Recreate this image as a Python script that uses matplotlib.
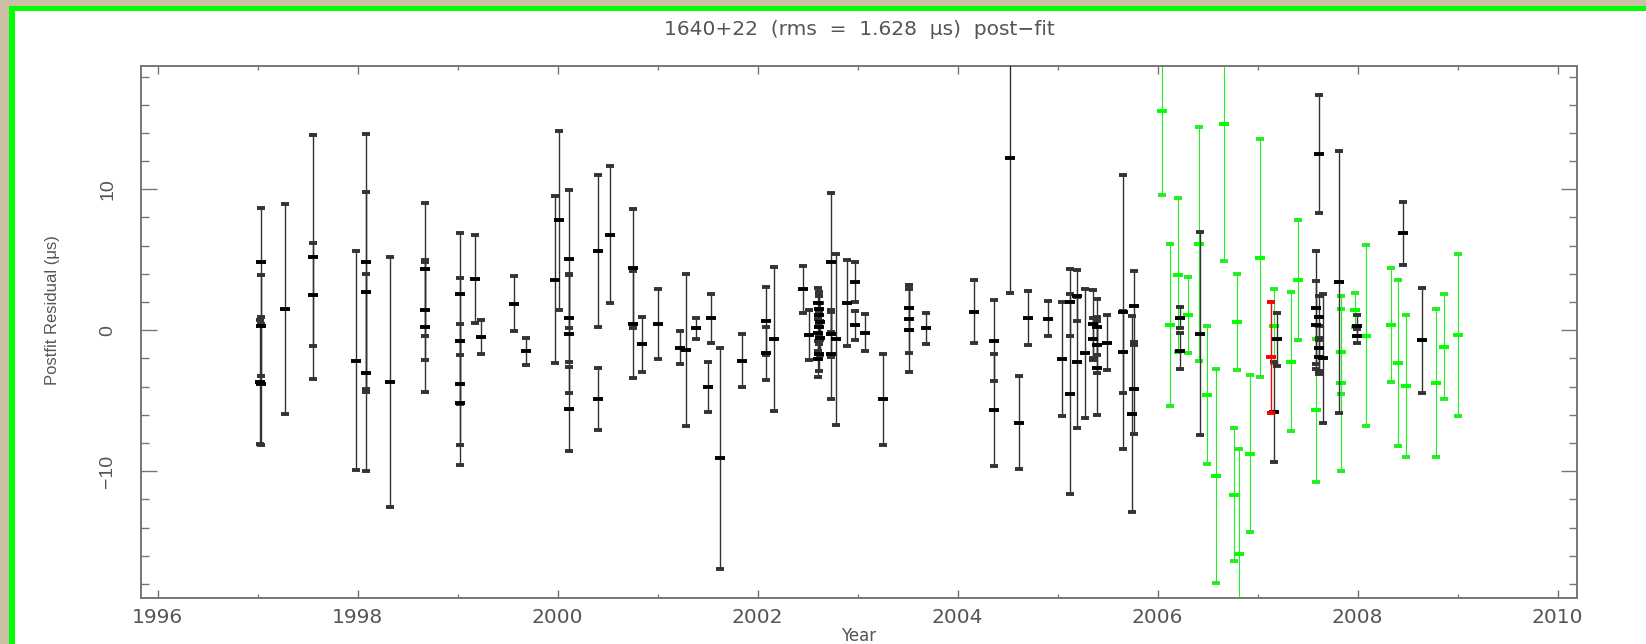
import matplotlib
matplotlib.use("Agg")
import matplotlib.pyplot as plt
from matplotlib.patches import Rectangle
from matplotlib.ticker import MultipleLocator
import numpy as np

# --- data (year, residual in us, error in us) ---
black_year = [1997.03, 1997.03, 1997.03, 1997.02, 1997.275, 1997.55, 1997.55,
              1997.98, 1998.08, 1998.08, 1998.08, 1998.325, 1998.67, 1998.67, 1998.67,
              1999.02, 1999.02, 1999.02, 1999.02, 1999.17, 1999.235, 1999.565, 1999.68,
              1999.97, 2000.015, 2000.11, 2000.11, 2000.11, 2000.11, 2000.40, 2000.40,
              2000.525, 2000.755, 2000.755, 2000.845, 2001.005, 2001.22, 2001.285,
              2001.38, 2001.50, 2001.53, 2001.625, 2001.84, 2002.085, 2002.085, 2002.16,
              2002.45, 2002.51,
              2002.60, 2002.61, 2002.61, 2002.62, 2002.61, 2002.60, 2002.62, 2002.61, 2002.60,
              2002.73, 2002.73, 2002.73, 2002.78, 2002.89, 2002.975, 2002.975, 2003.075,
              2003.25, 2003.51, 2003.51, 2003.51, 2003.68, 2004.16, 2004.365, 2004.365,
              2004.525, 2004.61, 2004.70, 2004.90, 2005.04, 2005.12, 2005.12, 2005.195,
              2005.195, 2005.27, 2005.35, 2005.35, 2005.39, 2005.39, 2005.39, 2005.49,
              2005.655, 2005.655, 2005.76, 2005.76, 2005.74, 2006.225, 2006.225, 2006.42,
              2007.16, 2007.19, 2007.58, 2007.58, 2007.615, 2007.61, 2007.61, 2007.61,
              2007.65, 2007.815, 2007.99, 2007.99, 2008.45, 2008.645]
black_res = [4.81, 0.33, -3.84, -3.65, 1.50, 5.19, 2.51,
             -2.15, 4.86, 2.69, -3.01, -3.67, 4.33, 1.42, 0.23,
             2.56, -0.76, -3.84, -5.19, 3.65, -0.50, 1.88, -1.49,
             3.57, 7.80, 5.04, 0.87, -0.25, -5.59, 5.62, -4.88,
             6.79, 4.40, 0.43, -1.01, 0.43, -1.24, -1.39,
             0.13, -4.02, 0.84, -9.08, -2.17, 0.66, -1.64, -0.63,
             2.91, -0.35,
             1.90, 1.50, 1.05, 0.60, 0.20, -0.20, -0.55, -1.70, -2.05,
             4.81, -0.30, -1.72, -0.63, 1.95, 3.42, 0.36, -0.17,
             -4.91, 1.60, 0.79, 0.00, 0.15, 1.32, -0.73, -5.67,
             12.23, -6.55, 0.89, 0.81, -2.02, 1.98, -4.53, 2.46,
             -2.28, -1.64, 0.43, -0.63, 0.23, -1.03, -2.70, -0.88,
             1.32, -1.56, 1.70, -4.18, -5.94, 0.89, -1.47, -0.25,
             -5.79, -0.65, 1.60, 0.38, 12.51, 0.94, -1.29, -1.90,
             -2.00, 3.42, 0.33, -0.38, 6.89, -0.71]
black_err = [3.85, 3.60, 4.31, 4.40, 7.45, 8.66, 3.66,
             7.80, 9.06, 7.10, 7.00, 8.86, 4.73, 3.55, 4.60,
             4.33, 4.50, 4.30, 4.40, 3.14, 1.20, 1.95, 0.97,
             5.93, 6.33, 4.90, 3.10, 4.20, 2.95, 5.37, 2.20,
             4.87, 4.23, 3.80, 1.97, 2.48, 1.18, 5.40,
             0.73, 1.76, 1.72, 7.83, 1.87, 2.41, 1.90, 5.10,
             1.66, 1.76,
             1.10, 1.20, 1.40, 1.30, 1.20, 1.30, 1.20, 1.20, 1.30,
             4.96, 1.60, 3.14, 6.06, 3.04, 1.44, 1.04, 1.33,
             3.20, 1.60, 2.40, 2.96, 1.10, 2.25, 2.86, 3.97,
             9.60, 3.27, 1.92, 1.25, 4.04, 2.40, 7.09, 1.80,
             4.63, 4.58, 2.40, 1.50, 1.97, 2.00, 3.35, 1.94,
             9.72, 2.92, 2.50, 3.15, 6.94, 0.73, 1.30, 7.20,
             3.55, 1.90, 4.00, 3.10, 4.20, 1.50, 1.60, 1.20,
             4.55, 9.30, 0.76, 0.50, 2.23, 3.72]

green_year = [2006.045, 2006.12, 2006.20, 2006.30, 2006.41, 2006.49, 2006.58,
              2006.66, 2006.76, 2006.79, 2006.81, 2006.925, 2007.02, 2007.16,
              2007.33, 2007.40, 2007.58, 2007.83, 2007.83, 2007.975, 2008.08,
              2008.33, 2008.405, 2008.48, 2008.78, 2008.86, 2009.00]
green_res = [15.54, 0.38, 3.93, 1.06, 6.13, -4.58, -10.35,
             14.61, -11.66, 0.58, -15.89, -8.75, 5.11, 0.30,
             -2.22, 3.55, -5.69, -1.52, -3.77, 1.44, -0.38,
             0.38, -2.32, -3.95, -3.72, -1.16, -0.35]
green_err = [5.92, 5.77, 5.44, 2.70, 8.30, 4.90, 7.60,
             9.67, 4.73, 3.38, 7.44, 5.58, 8.46, 2.65,
             4.93, 4.24, 5.05, 3.00, 6.20, 1.20, 6.40,
             4.03, 5.90, 5.05, 5.25, 3.70, 5.73]

red_year = [2007.135]
red_res = [-1.92]
red_err = [3.93]

title = "1640+22  (rms  =  1.628  \u03bcs)  post\u2212fit"
xticks = [1996, 1998, 2000, 2002, 2004, 2006, 2008, 2010]

W, H = 1646, 644
fig = plt.figure(figsize=(W / 100, H / 100), dpi=100)
fig.patch.set_facecolor("#cbbfa8")
# green frame (only top and left edges are visible in the crop)
fig.add_artist(Rectangle((9 / W, 0), 1, 1 - 6 / H, transform=fig.transFigure,
                         facecolor="#00ff00", edgecolor="none", zorder=-20))
fig.add_artist(Rectangle((15 / W, 0), 1, 1 - 11 / H, transform=fig.transFigure,
                         facecolor="white", edgecolor="none", zorder=-10))

ax = fig.add_axes([141 / W, 1 - 598 / H, (1577 - 141) / W, (598 - 66) / H])
ax.set_facecolor("white")

common = dict(fmt="_", ms=6.5, mew=2.8, capsize=3.0, capthick=0.9)
ax.errorbar(green_year, green_res, yerr=green_err, color="#00ff00",
            ecolor="#22ee22", elinewidth=0.8, zorder=2, **common)
ax.errorbar(black_year, black_res, yerr=black_err, color="black",
            ecolor="#333333", elinewidth=1.0, zorder=3, **common)
ax.errorbar(red_year, red_res, yerr=red_err, color="#ff0000",
            ecolor="#ff0000", elinewidth=1.0, zorder=4, **common)

ax.set_xlim(1995.835, 2010.195)
ax.set_ylim(-19.0, 18.75)

ax.xaxis.set_major_locator(MultipleLocator(2))
ax.xaxis.set_minor_locator(MultipleLocator(1))
ax.yaxis.set_major_locator(MultipleLocator(10))
ax.yaxis.set_minor_locator(MultipleLocator(2))
ax.set_xticks(xticks)

for sp in ax.spines.values():
    sp.set_color("#777777")
    sp.set_linewidth(1.4)

ax.tick_params(which="both", direction="in", top=True, right=True,
               color="#777777", width=1.0)
ax.tick_params(axis="x", which="major", length=5.8, pad=7,
               labelsize=14.5, labelcolor="#555555")
ax.tick_params(axis="x", which="minor", length=2.9)
ax.tick_params(axis="y", which="major", length=11.5, pad=18,
               labelsize=14, labelcolor="#555555", labelrotation=90)
ax.tick_params(axis="y", which="minor", length=5.8)
for lab in ax.get_yticklabels():
    lab.set_family(["Liberation Sans", "DejaVu Sans"])
    lab.set_va("center")

ax.set_title(title, fontsize=14.5, color="#555555", pad=22)
ax.set_xlabel("Year", fontsize=12, color="#555555")
ax.xaxis.set_label_coords(0.5, -0.055)
ax.set_ylabel("Postfit Residual (\u03bcs)", fontsize=12, color="#555555",
              family=["Liberation Sans", "DejaVu Sans"])
ax.yaxis.label.set_va("center")
ax.yaxis.set_label_coords(-0.0613, 0.541)

fig.savefig("out.png", dpi=100, facecolor=fig.get_facecolor())
